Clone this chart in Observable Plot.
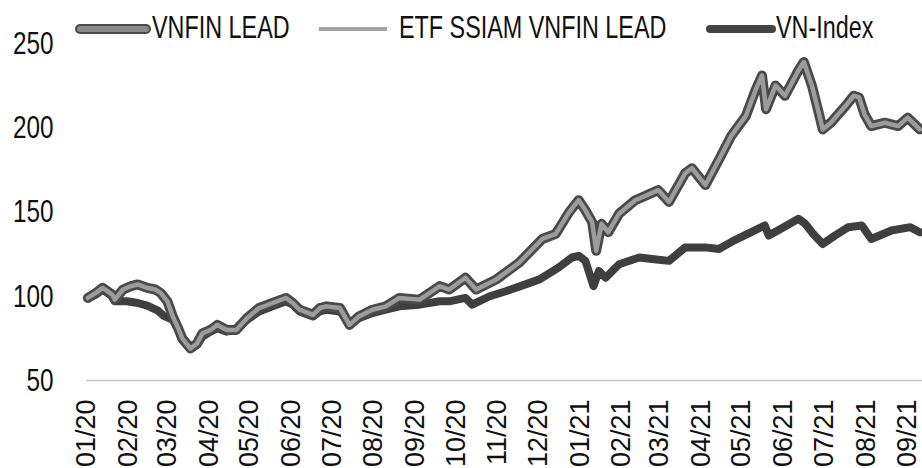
<!DOCTYPE html>
<html><head><meta charset="utf-8">
<script src="https://cdn.jsdelivr.net/npm/d3@7"></script>
<script src="https://cdn.jsdelivr.net/npm/@observablehq/plot@0.6"></script>
<style>
body{margin:0;background:#fff;}
#wrap{position:relative;width:922px;height:468px;font-family:"Liberation Sans",Arial,sans-serif;color:#111;}
.sw{position:absolute;box-sizing:border-box;}
.lt{position:absolute;top:11px;font-size:32px;line-height:32px;white-space:nowrap;transform:scaleX(0.73);transform-origin:0 50%;}
</style></head>
<body><div id="wrap">
<div id="legend">
  <div class="sw" style="left:75px;top:24px;width:76px;height:10px;background:#8a8a8a;border:2.5px solid #4a4a4a;border-radius:5px;"></div>
  <div class="lt" style="left:152px;">VNFIN LEAD</div>
  <div class="sw" style="left:319px;top:27px;width:68px;height:4px;background:#a3a3a3;"></div>
  <div class="lt" style="left:399px;">ETF SSIAM VNFIN LEAD</div>
  <div class="sw" style="left:706px;top:25px;width:70px;height:8px;background:#444;border-radius:4px;"></div>
  <div class="lt" style="left:776px;">VN-Index</div>
</div>
</div>
<script>
const seriesNames = ["VNFIN LEAD", "ETF SSIAM VNFIN LEAD", "VN-Index"];
const monthLabels = ["01/20","02/20","03/20","04/20","05/20","06/20","07/20","08/20","09/20","10/20","11/20","12/20","01/21","02/21","03/21","04/21","05/21","06/21","07/21","08/21","09/21"];
const yTicks = [50, 100, 150, 200, 250];

const vnfinDates = ["2020-01-02","2020-01-08","2020-01-13","2020-01-20","2020-01-22","2020-01-28","2020-02-03","2020-02-08","2020-02-15","2020-02-21","2020-02-25","2020-03-01","2020-03-05","2020-03-09","2020-03-12","2020-03-18","2020-03-23","2020-03-27","2020-04-02","2020-04-07","2020-04-14","2020-04-21","2020-04-29","2020-05-08","2020-05-18","2020-05-28","2020-06-02","2020-06-07","2020-06-17","2020-06-22","2020-06-27","2020-07-07","2020-07-14","2020-07-21","2020-07-31","2020-08-10","2020-08-20","2020-09-04","2020-09-19","2020-09-26","2020-10-08","2020-10-16","2020-10-31","2020-11-17","2020-12-04","2020-12-14","2020-12-24","2020-12-31","2021-01-05","2021-01-10","2021-01-13","2021-01-17","2021-01-22","2021-01-30","2021-02-11","2021-02-28","2021-03-08","2021-03-20","2021-03-25","2021-04-04","2021-04-14","2021-04-23","2021-05-04","2021-05-11","2021-05-16","2021-05-19","2021-05-26","2021-06-02","2021-06-12","2021-06-16","2021-06-22","2021-06-27","2021-06-30","2021-07-06","2021-07-17","2021-07-23","2021-07-27","2021-07-31","2021-08-05","2021-08-15","2021-08-25","2021-09-01","2021-09-10"];
const vnfinValues = [99,102,105,101,98,104,106,107,105,104,102,97,88,81,75,69,72,78,80,83,80,80,87,93,96,99,96,92,89,93,94,93,83,88,92,94,99,98,106,104,111,104,110,120,134,137,150,157,151,144,127,143,138,149,157,163,156,173,176,166,181,195,207,222,231,211,225,219,234,239,225,209,199,203,213,219,218,208,201,203,201,206,199];
const etfValues   = [99,102,105,101,98,104,106,107,105,104,102,97,88,81,75,69,72,78,80,83,80,80,87,93,96,99,96,92,89,93,94,93,83,88,92,94,99,98,106,104,111,104,110,120,134,137,150,157,151,144,127,143,138,149,157,163,156,173,176,166,181,195,207,222,231,211,225,219,234,239,225,209,199,203,213,219,218,208,201,203,201,206,199];

const vnIndexDates = ["2020-01-02","2020-01-08","2020-01-13","2020-01-20","2020-01-22","2020-01-31","2020-02-08","2020-02-15","2020-02-23","2020-02-27","2020-03-05","2020-03-09","2020-03-12","2020-03-18","2020-03-23","2020-03-27","2020-04-02","2020-04-07","2020-04-14","2020-04-21","2020-04-29","2020-05-08","2020-05-18","2020-05-28","2020-06-02","2020-06-07","2020-06-17","2020-06-22","2020-06-27","2020-07-07","2020-07-14","2020-07-21","2020-07-31","2020-08-10","2020-08-20","2020-09-04","2020-09-19","2020-09-26","2020-10-08","2020-10-13","2020-10-26","2020-11-07","2020-12-02","2020-12-16","2020-12-26","2020-12-31","2021-01-05","2021-01-11","2021-01-15","2021-01-20","2021-01-30","2021-02-14","2021-02-25","2021-03-08","2021-03-20","2021-04-04","2021-04-14","2021-04-25","2021-05-08","2021-05-18","2021-05-21","2021-06-01","2021-06-12","2021-06-17","2021-06-23","2021-06-30","2021-07-09","2021-07-19","2021-07-29","2021-08-05","2021-08-20","2021-09-03","2021-09-10"];
const vnIndexValues = [99,101,104,100,97,97,96,94.5,91.5,88.5,86,80,74,70,71,76,79,81,79,80,86,91,94,97,95,91,88,91,92,91,84,87,90,92,94,95,97,97,99,95,100,103,110,117,123,124,121,106,115,111,119,123,122,121,129,129,128,133,138,142,136,141,146,143,137,131,136,141,142,134,139,141,138];

const rows = [];
vnIndexDates.forEach((d, i) => rows.push({series: seriesNames[2], date: new Date(d), value: vnIndexValues[i]}));
vnfinDates.forEach((d, i) => rows.push({series: seriesNames[0], date: new Date(d), value: vnfinValues[i]}));
vnfinDates.forEach((d, i) => rows.push({series: seriesNames[1], date: new Date(d), value: etfValues[i]}));

const tickDates = monthLabels.map(l => new Date(Date.UTC(2000 + +l.slice(3), +l.slice(0, 2) - 1, 1)));

const chart = Plot.plot({
  width: 922, height: 468,
  marginLeft: 86, marginRight: 0, marginTop: 43, marginBottom: 88,
  style: {fontFamily: '"Liberation Sans",Arial,sans-serif', color: "#111", background: "transparent"},
  x: {type: "utc", domain: [new Date("2020-01-01"), new Date("2021-09-12T00:00Z")]},
  y: {domain: [50, 250]},
  marks: [
    Plot.ruleY([50], {stroke: "#c4c4c4", strokeWidth: 1.5}),
    Plot.axisY(yTicks, {tickSize: 0, tickPadding: 33, fontSize: 32, label: null}),
    Plot.axisX(tickDates, {tickSize: 0, tickPadding: 19, tickRotate: -90, fontSize: 27, label: null, tickFormat: (d, i) => monthLabels[i]}),
    Plot.line(rows.filter(r => r.series === seriesNames[2]), {x: "date", y: "value", stroke: "#3f3f3f", strokeWidth: 8, strokeLinejoin: "round", strokeLinecap: "round"}),
    Plot.line(rows.filter(r => r.series === seriesNames[0]), {x: "date", y: "value", stroke: "#4a4a4a", strokeWidth: 10, strokeLinejoin: "round", strokeLinecap: "round"}),
    Plot.line(rows.filter(r => r.series === seriesNames[1]), {x: "date", y: "value", stroke: "#9c9c9c", strokeWidth: 4.5, strokeLinejoin: "round", strokeLinecap: "round"})
  ]
});
// condense the y tick labels horizontally, as in the reference
chart.querySelectorAll('g[aria-label="y-axis tick label"] text').forEach(t => {
  const tr = t.getAttribute("transform") || "";
  t.setAttribute("transform", tr + " scale(0.76,1)");
});
chart.style.position = "absolute";
chart.style.left = "0px";
chart.style.top = "0px";
document.getElementById("wrap").insertBefore(chart, document.getElementById("legend"));
</script>
</body></html>
